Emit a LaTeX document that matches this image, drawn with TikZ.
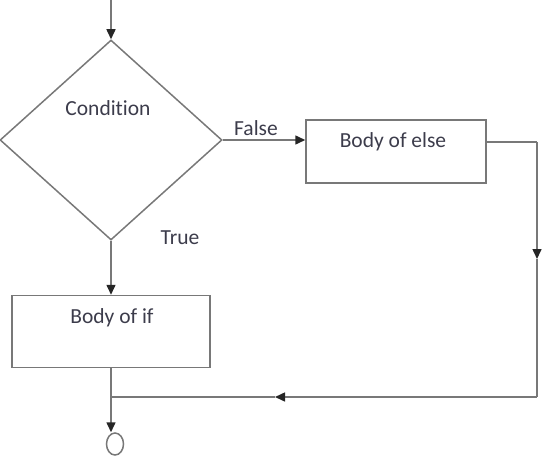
\documentclass[tikz,border=0pt]{standalone}
\usepackage{fontspec}
\setmainfont{Carlito}[Ligatures=NoCommon]
\usetikzlibrary{arrows.meta,shapes.geometric}
\definecolor{lineg}{RGB}{120,120,120}
\definecolor{txt}{RGB}{60,60,75}
\tikzset{
  ln/.style={draw=lineg, line width=1.5pt},
  arr/.style={ln, -{Triangle[length=10pt,width=9pt,color=black!85]}},
  box/.style={draw=lineg, line width=1.5pt, rectangle, inner sep=0pt},
  lbl/.style={text=txt, font=\fontsize{21.5}{24}\selectfont, inner sep=0pt}
}
\begin{document}
\begin{tikzpicture}[x=1pt,y=-1pt]
\useasboundingbox (0,0) rectangle (545,460);
\node[diamond, draw=lineg, line width=1.5pt, minimum width=222pt, minimum height=200pt, inner sep=0pt] (cond) at (111,140) {};
\node[lbl] (condt) at (108,108) {Condition};
\node[box, minimum width=180pt, minimum height=63pt] (else) at (396,151.5) {};
\node[lbl] (elset) at (393,142) {Body of else};
\node[box, minimum width=198pt, minimum height=72pt] (ifb) at (111,331.5) {};
\node[lbl] (ift) at (112,318) {Body of if};
\node[lbl] (falset) at (256,128) {False};
\node[lbl] (truet) at (180,238) {True};
\node[ellipse, draw=lineg, line width=1.5pt, minimum width=17pt, minimum height=22pt, inner sep=0pt] (end) at (115,444) {};
\coordinate (start) at (111,0);
\coordinate (r1) at (537,142);
\coordinate (rm) at (537,259);
\coordinate (r2) at (537,397);
\coordinate (bm) at (275,397);
\coordinate (j) at (111,397);
\draw[arr] (start) -- (cond.north);
\draw[arr] (cond.east) -- (cond.east -| else.west);
\draw[ln] (r1 -| else.east) -- (r1);
\draw[arr] (r1) -- (rm);
\draw[ln] (rm) -- (r2);
\draw[arr] (r2) -- (bm);
\draw[ln] (bm) -- (j);
\draw[arr] (cond.south) -- (ifb.north);
\draw[arr] (ifb.south) -- (ifb.south |- end.north);
\end{tikzpicture}
\end{document}
